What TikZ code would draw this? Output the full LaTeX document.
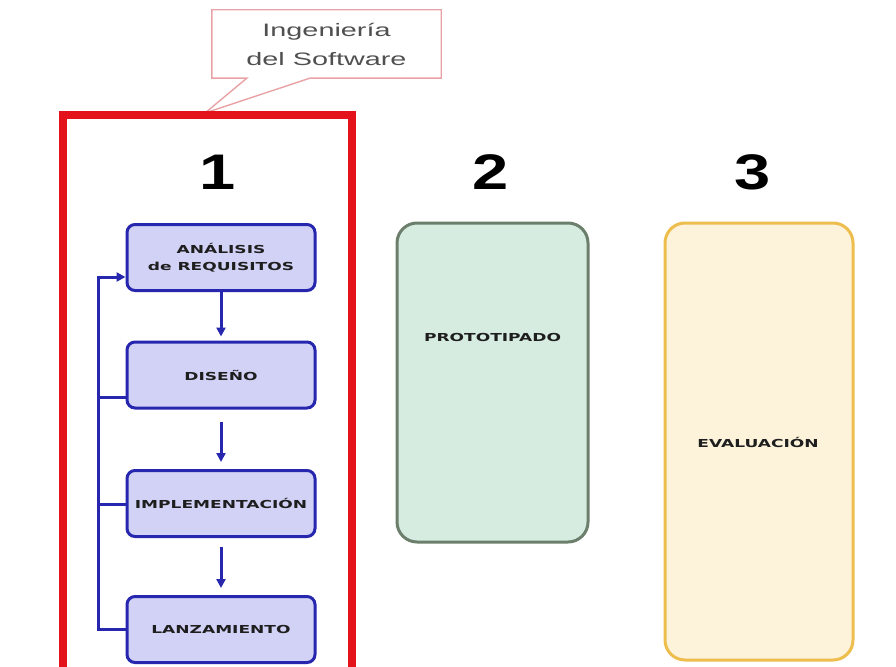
\documentclass[tikz,border=0pt]{standalone}
\usepackage{fontspec}
\usetikzlibrary{arrows.meta}
\newfontfamily\calloutfont[FakeStretch=1.6]{Liberation Sans}
\newfontfamily\numfont[FakeStretch=1.3]{Liberation Sans}
\newfontfamily\boxfont[FakeStretch=1.55]{DejaVu Sans}
\definecolor{frameRed}{HTML}{E3121B}
\definecolor{calloutEdge}{HTML}{E9A3A6}
\definecolor{calloutText}{HTML}{505050}
\definecolor{stepFill}{HTML}{D2D2F7}
\definecolor{stepEdge}{HTML}{2626AE}
\definecolor{protoFill}{HTML}{D6ECE0}
\definecolor{protoEdge}{HTML}{6C7E6C}
\definecolor{evalFill}{HTML}{FDF2DA}
\definecolor{evalEdge}{HTML}{EDBE4E}
\definecolor{labelInk}{HTML}{1E1E1E}
\tikzset{
  x=1pt, y=-1pt,
  calloutline/.style={draw=calloutEdge, line width=1.4pt, fill=white, line join=miter},
  callouttext/.style={font=\calloutfont\fontsize{18}{29}\selectfont, text=calloutText, align=center,
    minimum width=229pt, minimum height=68pt, inner sep=0pt},
  stagenum/.style={font=\numfont\bfseries\fontsize{50}{50}\selectfont, text=black, inner sep=0pt},
  stageframe/.style={draw=frameRed, line width=8pt, minimum width=289pt, minimum height=575pt, inner sep=0pt},
  stepbox/.style={draw=stepEdge, fill=stepFill, line width=3pt, rounded corners=8pt,
    minimum width=188pt, minimum height=66pt, inner sep=0pt, align=center,
    font=\boxfont\bfseries\fontsize{11}{17}\selectfont, text=labelInk},
  flow/.style={draw=stepEdge, line width=3pt},
  flowarrow/.style={flow, -{Triangle[width=9pt,length=9pt]}},
  phasebox/.style={line width=3pt, rounded corners=20pt, inner sep=0pt},
  phaselabel/.style={font=\boxfont\bfseries\fontsize{11}{17}\selectfont, text=labelInk, inner sep=0pt}
}
\begin{document}
\begin{tikzpicture}
\useasboundingbox (0,0) rectangle (896,666);
\clip (0,0) rectangle (896,666);
\fill[white] (0,0) rectangle (896,666);

% callout naming the first stage
\node[callouttext] (callout) at (326.5,44) {};
\coordinate (callouttip) at (205,113);
\draw[calloutline] (callout.north west) -- (callout.north east) -- (callout.south east)
  -- ([xshift=98pt]callout.south west) -- (callouttip) -- ([xshift=35pt]callout.south west)
  -- (callout.south west) -- cycle;
\node[callouttext] (callouttitle) at (callout.center) {Ingeniería\\del Software};

% stage 1 frame
\node[stageframe] (stage1) at (207.5,402.5) {};

% stage numbers
\node[stagenum] (n1) at (218,172) {1};
\node[stagenum] (n2) at (491,172) {2};
\node[stagenum] (n3) at (753,172) {3};

% stage 1 steps
\node[stepbox] (ana) at (221,257.5) {ANÁLISIS\\de REQUISITOS};
\node[stepbox] (dis) at (221,375) {DISEÑO};
\node[stepbox] (imp) at (221,503.5) {IMPLEMENTACIÓN};
\node[stepbox] (lan) at (221,629.5) {LANZAMIENTO};

% (yshift is measured upwards on the page)
\draw[flowarrow] (ana.south) -- ([yshift=4pt]dis.north);
\draw[flowarrow] ([yshift=-12pt]dis.south) -- ([yshift=7pt]imp.north);
\draw[flowarrow] ([yshift=-9pt]imp.south) -- ([yshift=7pt]lan.north);

% feedback line back to the first step
\coordinate (fbbot) at (98,629.5);
\coordinate (fbtop) at (98,277);
\draw[flowarrow] (lan.west) -- (fbbot) -- (fbtop) -- (fbtop -| ana.west);
\draw[flow] ([yshift=-22pt]dis.west) -- ([yshift=-22pt]dis.west -| fbtop);
\draw[flow] ([yshift=-1pt]imp.west) -- ([yshift=-1pt]imp.west -| fbtop);

% stage 2
\node[phasebox, draw=protoEdge, fill=protoFill, minimum width=191pt, minimum height=319pt] (proto) at (492.5,382.5) {};
\node[phaselabel] (protolabel) at (492.5,337) {PROTOTIPADO};

% stage 3
\node[phasebox, draw=evalEdge, fill=evalFill, minimum width=188pt, minimum height=437pt] (eval) at (759,441.5) {};
\node[phaselabel] (evallabel) at (758,442) {EVALUACIÓN};
\end{tikzpicture}
\end{document}
